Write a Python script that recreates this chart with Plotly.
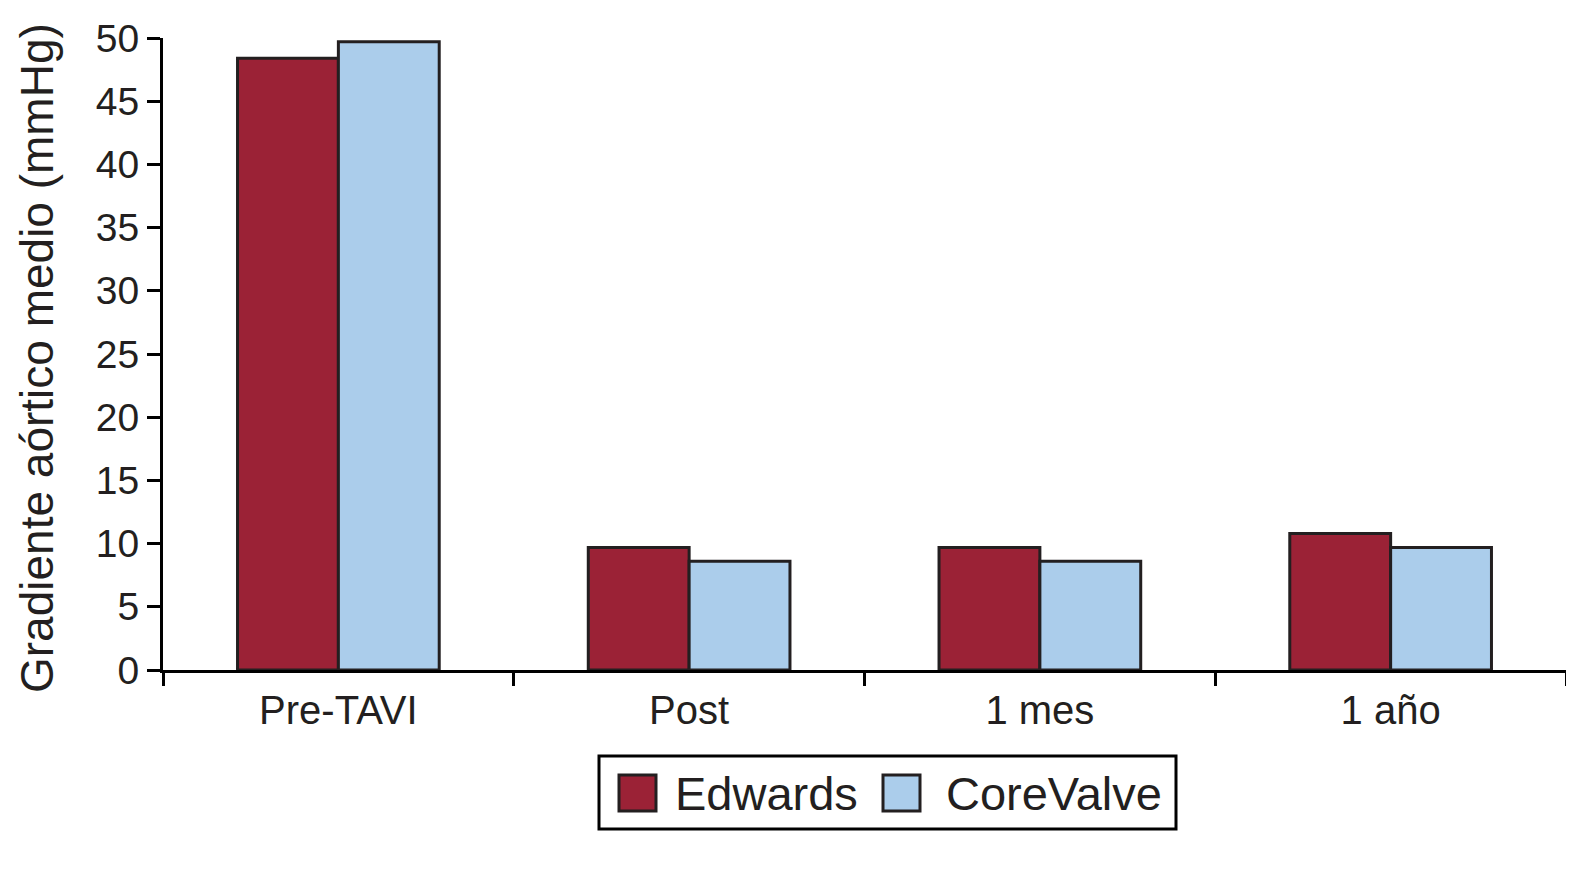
import plotly.graph_objects as go

categories = ["Pre-TAVI", "Post", "1 mes", "1 año"]
edwards = [48.4, 9.7, 9.7, 10.8]
corevalve = [49.7, 8.6, 8.6, 9.7]
series_names = ["Edwards", "CoreValve"]
y_ticks = [0, 5, 10, 15, 20, 25, 30, 35, 40, 45, 50]

RED = "#9b2236"
BLUE = "#abcdeb"
INK = "#231f20"
FONT = "Liberation Sans, Arial, sans-serif"

OFF = 8  # default page body margin
W, H = 1574, 869
# desired plot area in page pixels
PX0, PX1, PY0, PY1 = 163, 1566, 38, 670
L = PX0 - OFF
T = PY0 - OFF
R = W - (PX1 - OFF)
B = H - (PY1 - OFF)
pw, ph = PX1 - PX0, PY1 - PY0

def px_x(px):
    return (px - PX0) / pw

def px_y(py):
    return (PY1 - py) / ph

fig = go.Figure()
fig.add_trace(go.Bar(x=categories, y=edwards, name=series_names[0],
                     marker=dict(color=RED, line=dict(color=INK, width=3)),
                     showlegend=False))
fig.add_trace(go.Bar(x=categories, y=corevalve, name=series_names[1],
                     marker=dict(color=BLUE, line=dict(color=INK, width=3)),
                     showlegend=False))

fig.update_layout(
    width=W, height=H,
    margin=dict(l=L, r=R, t=T, b=B, autoexpand=False),
    paper_bgcolor="white", plot_bgcolor="white",
    barmode="group", bargap=0.425, bargroupgap=0,
    font=dict(family=FONT, color=INK),
    xaxis=dict(type="category", range=[-0.5, 3.5], tickson="boundaries",
               ticks="outside", ticklen=13, tickwidth=3, tickcolor="black",
               showline=True, linecolor="black", linewidth=3,
               showgrid=False, zeroline=False, ticklabelstandoff=3,
               tickfont=dict(size=40, family=FONT, color=INK)),
    yaxis=dict(range=[0, 50], tickvals=y_ticks, ticks="outside", ticklen=13,
               tickwidth=3, tickcolor="black", showline=True,
               linecolor="black", linewidth=3, showgrid=False, zeroline=False,
               tickfont=dict(size=39, family=FONT, color=INK)),
)

# Y axis title
fig.add_annotation(text="Gradiente aórtico medio (mmHg)", textangle=-90,
                   xref="paper", yref="paper", x=px_x(37), y=px_y(358),
                   xanchor="center", yanchor="middle", showarrow=False,
                   borderpad=0,
                   font=dict(size=46, family=FONT, color=INK))

# Legend box
fig.add_shape(type="rect", xref="paper", yref="paper",
              x0=px_x(599), x1=px_x(1176), y0=px_y(829), y1=px_y(756),
              line=dict(color="black", width=3), fillcolor="white", layer="above")
legend_items = [(series_names[0], RED, 619, 673), (series_names[1], BLUE, 883, 944)]
for name, col, sx, tx in legend_items:
    fig.add_shape(type="rect", xref="paper", yref="paper",
                  x0=px_x(sx), x1=px_x(sx + 37), y0=px_y(811), y1=px_y(775),
                  line=dict(color=INK, width=3), fillcolor=col, layer="above")
    fig.add_annotation(text=name, xref="paper", yref="paper",
                       x=px_x(tx), y=px_y(793), xanchor="left", yanchor="middle",
                       showarrow=False, font=dict(size=47, family=FONT, color=INK))

fig.write_html("out.html")
